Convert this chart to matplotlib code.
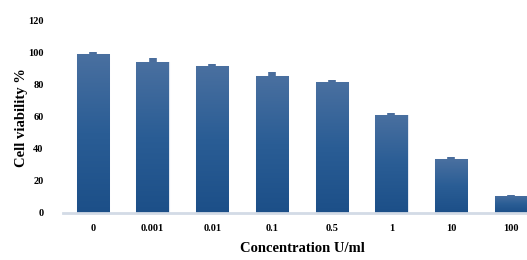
import matplotlib
matplotlib.use("Agg")
import matplotlib.pyplot as plt
import numpy as np

categories = ["0", "0.001", "0.01", "0.1", "0.5", "1", "10", "100"]
viability = [99, 94, 91.5, 85.2, 81.5, 61.2, 33.5, 10.8]
errors = [1.0, 2.4, 1.2, 2.5, 1.2, 1.0, 1.4, 0.5]
yticks = [0, 20, 40, 60, 80, 100, 120]

plt.rcParams['font.family'] = ['Liberation Serif', 'DejaVu Serif']

fig = plt.figure(figsize=(5.27, 2.6), dpi=100)
W, H = 527, 260
ax = fig.add_axes([63 / W, 1 - 213 / H, 464 / W, (213 - 20) / H])

x = np.arange(len(categories))
bars = ax.bar(x, viability, width=0.54, color="#2a5a92", edgecolor="#dfe6f0",
              linewidth=0.8, zorder=2)

# vertical gradient inside each bar
grad = np.linspace(0, 1, 256).reshape(-1, 1)
cmap = matplotlib.colors.LinearSegmentedColormap.from_list(
    "g", ["#1c4f88", "#2a5d95", "#4a70a0"])
for b in bars:
    x0, y0 = b.get_x(), b.get_y()
    w, h = b.get_width(), b.get_height()
    im = ax.imshow(grad, cmap=cmap, aspect="auto", origin="lower",
                   extent=[x0, x0 + w, y0, y0 + h], zorder=2.5)
    im.set_clip_path(b)

ax.errorbar(x, viability, yerr=[np.zeros(len(errors)), errors], fmt="none",
            ecolor="#4a6d9c", elinewidth=5.5, capsize=0, zorder=3)

ax.set_xlim(-0.5, 7.27)
ax.set_ylim(0, 120)
ax.set_yticks(yticks)
ax.set_yticklabels([str(t) for t in yticks], fontsize=7.5, fontweight="bold")
ax.set_xticks(x)
ax.set_xticklabels(categories, fontsize=7.5, fontweight="bold")
ax.tick_params(axis="both", length=0, pad=8)
ax.tick_params(axis="y", pad=14)
for s in ["top", "right", "left"]:
    ax.spines[s].set_visible(False)
ax.spines["bottom"].set_color("#d3dbe6")
ax.spines["bottom"].set_linewidth(2)

fig.text(22 / W, 1 - 118 / H, "Cell viability %", rotation=90, ha="center",
         va="center", fontsize=10.5, fontweight="bold")
fig.text(302 / W, 1 - 249 / H, "Concentration U/ml", ha="center", va="center",
         fontsize=10.5, fontweight="bold")

fig.savefig("out.png", dpi=100)
